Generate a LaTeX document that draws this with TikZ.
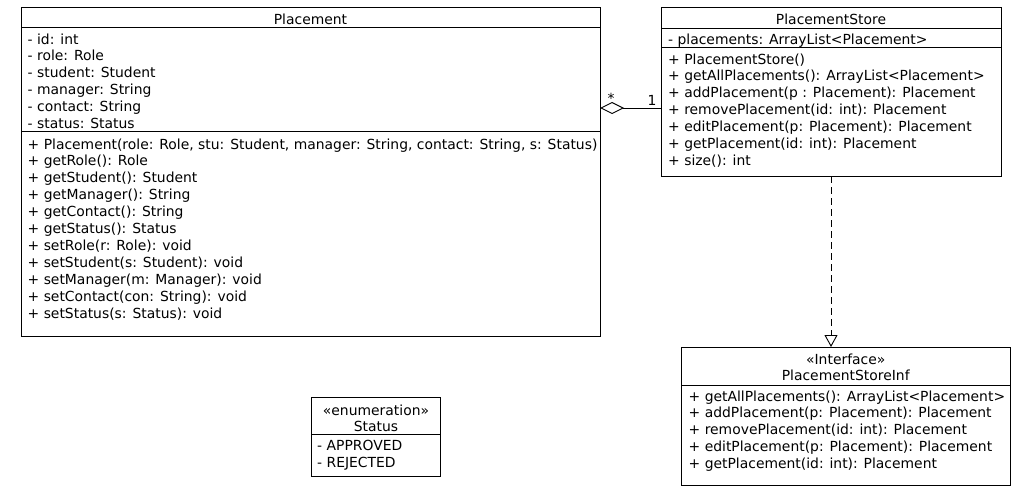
\documentclass[tikz,border=0pt]{standalone}
\usepackage{fontspec}
\setmainfont{DejaVu Sans}
\usetikzlibrary{arrows.meta}
\newcommand\umlfont{\fontsize{13.9}{16}\selectfont}
\begin{document}
\begin{tikzpicture}[x=1pt,y=-1pt,
  box/.style={draw, line width=0.9pt, inner sep=0pt, outer sep=0pt, anchor=north west},
  tx/.style={anchor=base west, inner sep=0pt, font=\umlfont},
  ttl/.style={anchor=base, inner sep=0pt, font=\umlfont},
  sep/.style={line width=0.9pt},
  lbl/.style={inner sep=0pt, font=\umlfont}]
\useasboundingbox[fill=white] (0,0) rectangle (1030,501);

% Placement
\node[box, minimum width=579pt, minimum height=329pt] (pl) at (21,7) {};
\node[ttl] (plT) at (310.5,24.5) {Placement};
\draw[sep] (pl.west |- 0,27.5) -- (pl.east |- 0,27.5);
\foreach \t [count=\i from 0] in {{- id: int},{- role: Role},{- student: Student},{- manager: String},{- contact: String},{- status: Status}}
  \node[tx] (plA\i) at (27.5,44+16.85*\i) {\t};
\draw[sep] (pl.west |- 0,131.5) -- (pl.east |- 0,131.5);
\foreach \t [count=\i from 0] in {{+ Placement(role: Role, stu: Student, manager: String, contact: String, s: Status)},{+ getRole(): Role},{+ getStudent(): Student},{+ getManager(): String},{+ getContact(): String},{+ getStatus(): Status},{+ setRole(r: Role): void},{+ setStudent(s: Student): void},{+ setManager(m: Manager): void},{+ setContact(con: String): void},{+ setStatus(s: Status): void}}
  \node[tx] (plM\i) at (27.5,149+16.9*\i) {\t};

% PlacementStore
\node[box, minimum width=340pt, minimum height=169pt] (ps) at (661,7) {};
\node[ttl] (psT) at (831,24.5) {PlacementStore};
\draw[sep] (ps.west |- 0,28) -- (ps.east |- 0,28);
\node[tx] (psA0) at (668,44) {- placements: ArrayList<Placement>};
\draw[sep] (ps.west |- 0,47) -- (ps.east |- 0,47);
\foreach \t [count=\i from 0] in {{+ PlacementStore()},{+ getAllPlacements(): ArrayList<Placement>},{+ addPlacement(p : Placement): Placement},{+ removePlacement(id: int): Placement},{+ editPlacement(p: Placement): Placement},{+ getPlacement(id: int): Placement},{+ size(): int}}
  \node[tx] (psM\i) at (668,64+16.9*\i) {\t};

% PlacementStoreInf
\node[box, minimum width=328.5pt, minimum height=138pt] (inf) at (681.5,347) {};
\node[ttl] (infS) at (845.75,364) {«Interface»};
\node[ttl] (infT) at (845.75,380.5) {PlacementStoreInf};
\draw[sep] (inf.west |- 0,385) -- (inf.east |- 0,385);
\foreach \t [count=\i from 0] in {{+ getAllPlacements(): ArrayList<Placement>},{+ addPlacement(p: Placement): Placement},{+ removePlacement(id: int): Placement},{+ editPlacement(p: Placement): Placement},{+ getPlacement(id: int): Placement}}
  \node[tx] (infM\i) at (688.5,401+16.9*\i) {\t};

% Status
\node[box, minimum width=129pt, minimum height=79pt] (st) at (311.5,397) {};
\node[ttl] (stS) at (376,415.5) {«enumeration»};
\node[ttl] (stT) at (376,431.5) {Status};
\draw[sep] (st.west |- 0,434) -- (st.east |- 0,434);
\node[tx] (stA0) at (317,450.5) {- APPROVED};
\node[tx] (stA1) at (317,467.3) {- REJECTED};

% aggregation
\coordinate (aggA) at (ps.west |- 0,108);
\coordinate (aggB) at (pl.east |- 0,108);
\draw[line width=0.9pt, -{Diamond[open, length=24pt, width=12pt, line width=0.9pt]}] (aggA) -- (aggB);
\node[lbl] (mStar) at (611,98) {*};
\node[lbl] (mOne) at (652,100) {1};

% realization
\draw[line width=0.9pt, dash pattern=on 7pt off 4pt, -{Triangle[open, length=12pt, width=13pt, line width=0.9pt]}] (ps.south -| 831,0) -- (inf.north -| 831,0);
\end{tikzpicture}
\end{document}
